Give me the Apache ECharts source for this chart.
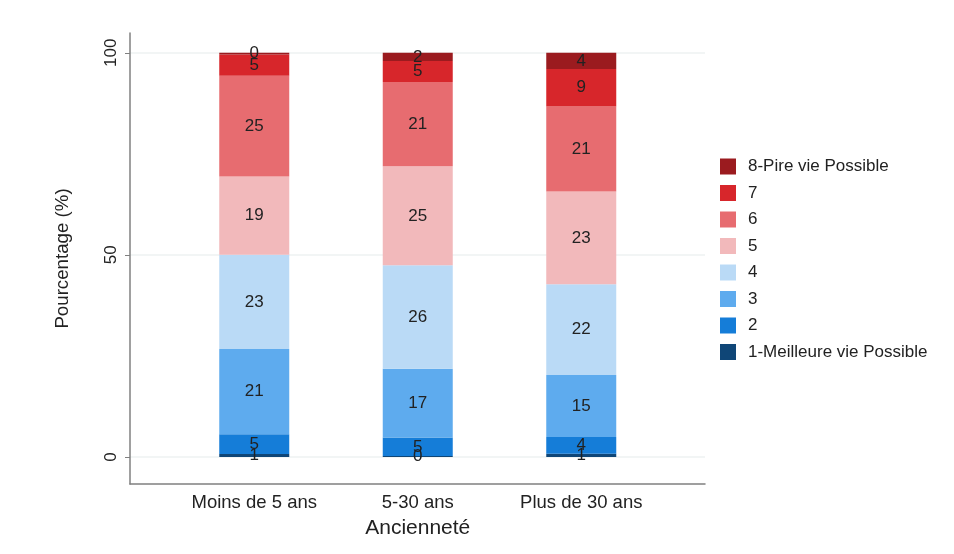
<!DOCTYPE html>
<html>
<head>
<meta charset="utf-8">
<script src="https://cdn.jsdelivr.net/npm/echarts@6/dist/echarts.min.js"></script>
<style>html,body{margin:0;padding:0;background:#fff;}#c{width:954px;height:554px;}</style>
</head>
<body>
<div id="c"></div>
<script>
const categories = ['Moins de 5 ans', '5-30 ans', 'Plus de 30 ans'];
const seriesNames = ['1-Meilleure vie Possible', '2', '3', '4', '5', '6', '7', '8-Pire vie Possible'];
const s1 = [0.7, 0.2, 0.8];
const s2 = [4.9, 4.6, 4.1];
const s3 = [21.1, 17.0, 15.4];
const s4 = [23.3, 25.6, 22.4];
const s5 = [19.4, 24.5, 23.0];
const s6 = [24.9, 20.9, 21.0];
const s7 = [5.3, 5.2, 9.3];
const s8 = [0.4, 2.0, 4.0];
const yTicks = [0, 50, 100];
const colors = ['#0f4677', '#157dd8', '#5eabee', '#badaf6', '#f2b9bb', '#e76c70', '#d7262b', '#9b1b1f'];

const allData = [s1, s2, s3, s4, s5, s6, s7, s8];
const FONT = 'Liberation Sans, Arial, sans-serif';
const yMin = -6.7, yMax = 104.9;

const series = allData.map((d, i) => ({
  name: seriesNames[i],
  type: 'bar',
  stack: 'total',
  xAxisIndex: 1,
  yAxisIndex: 1,
  barWidth: 70,
  data: d,
  itemStyle: { color: colors[i] },
  label: {
    show: true,
    position: 'inside',
    color: '#222',
    fontFamily: FONT,
    fontSize: 17,
    formatter: p => String(Math.round(p.value))
  }
}));

const chart = echarts.init(document.getElementById('c'));
chart.setOption({
  backgroundColor: '#fff',
  animation: false,
  color: colors,
  legend: {
    orient: 'vertical',
    left: 715,
    top: 153,
    itemWidth: 16,
    itemHeight: 16,
    itemGap: 9.5,
    icon: 'rect',
    data: seriesNames.slice().reverse(),
    textStyle: { fontFamily: FONT, fontSize: 17, lineHeight: 16, color: '#222', padding: [0, 0, 0, 7] }
  },
  grid: [
    { left: 130, right: 249, top: 33, bottom: 70 },
    { left: 172.5, right: 291, top: 33, bottom: 70 }
  ],
  xAxis: [
    {
      type: 'value', gridIndex: 0, min: 0, max: 1,
      axisLine: { show: true, onZero: false, lineStyle: { color: '#808080', width: 1.5 } },
      axisTick: { show: false }, axisLabel: { show: false }, splitLine: { show: false }
    },
    {
      type: 'category', gridIndex: 1, data: categories,
      axisLine: { show: false }, axisTick: { show: false },
      axisLabel: { fontFamily: FONT, fontSize: 18.5, color: '#222', margin: 9.5 },
      name: 'Ancienneté', nameLocation: 'middle', nameGap: 32,
      nameTextStyle: { fontFamily: FONT, fontSize: 21, color: '#222' }
    }
  ],
  yAxis: [
    {
      type: 'value', gridIndex: 0, min: yMin, max: yMax,
      axisLine: { show: true, onZero: false, lineStyle: { color: '#808080', width: 1.5 } },
      axisTick: { show: true, length: 5, customValues: yTicks, lineStyle: { color: '#808080' } },
      axisLabel: { customValues: yTicks, rotate: 90, fontFamily: FONT, fontSize: 17, color: '#222', margin: 10 },
      splitLine: { show: true, lineStyle: { color: '#eef2f2', width: 1.5 } },
      name: 'Pourcentage (%)', nameLocation: 'middle', nameGap: 58,
      nameTextStyle: { fontFamily: FONT, fontSize: 18.7, color: '#222' }
    },
    {
      type: 'value', gridIndex: 1, min: yMin, max: yMax, show: false,
      splitLine: { show: false }
    }
  ],
  series: series
});
</script>
</body>
</html>
